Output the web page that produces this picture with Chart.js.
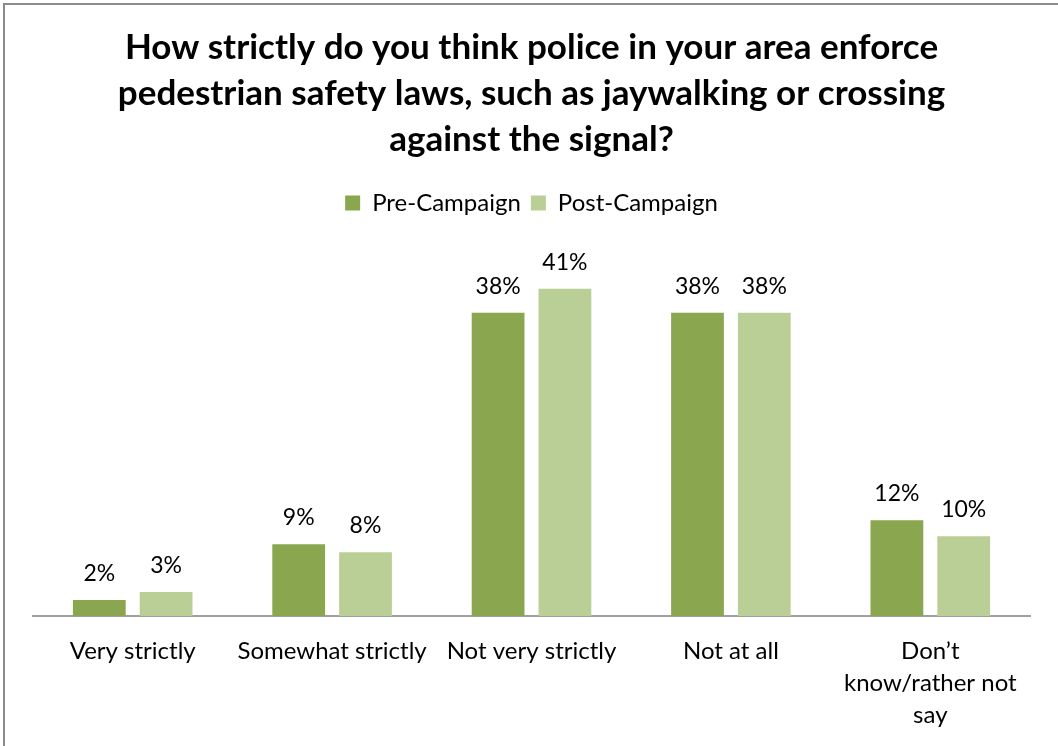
<!DOCTYPE html>
<html>
<head>
<meta charset="utf-8">
<script src="https://cdn.jsdelivr.net/npm/chart.js@4"></script>
<style>
  html, body { margin: 0; padding: 0; background: #fff; }
  #wrap { width: 1058px; height: 746px; }
</style>
</head>
<body>
<div id="wrap"><canvas id="myChart" width="1058" height="746"></canvas></div>
<script>
// survey answers and percentages
const categories = ['Very strictly', 'Somewhat strictly', 'Not very strictly', 'Not at all', ['Don\u2019t', 'know/rather not', 'say']];
const preCampaign = [2, 9, 38, 38, 12];
const postCampaign = [3, 8, 41, 38, 10];
const seriesNames = ['Pre-Campaign', 'Post-Campaign'];

const FONT = 'Lato, Calibri, Carlito, sans-serif';

// frame along the top and left edge
const framePlugin = {
    id: 'frame',
    afterDraw(chart) {
        const ctx = chart.ctx;
        ctx.save();
        ctx.strokeStyle = '#8c8c8c';
        ctx.lineWidth = 2;
        ctx.beginPath();
        ctx.moveTo(4, chart.height);
        ctx.lineTo(4, 4);
        ctx.lineTo(chart.width, 4);
        ctx.stroke();
        ctx.restore();
    }
};

// percentage label over each bar
const valueLabels = {
    id: 'valueLabels',
    afterDatasetsDraw(chart) {
        const ctx = chart.ctx;
        ctx.save();
        ctx.font = '23px ' + FONT;
        ctx.fillStyle = '#000';
        ctx.textAlign = 'center';
        ctx.textBaseline = 'alphabetic';
        chart.data.datasets.forEach((ds, i) => {
            chart.getDatasetMeta(i).data.forEach((bar, j) => {
                ctx.fillText(ds.data[j] + '%', bar.x, bar.y - 19);
            });
        });
        ctx.restore();
    }
};

const ctx = document.getElementById('myChart').getContext('2d');
const chart = new Chart(ctx, {
    type: 'bar',
    data: {
        labels: categories,
        datasets: [{
            label: seriesNames[0],
            data: preCampaign,
            backgroundColor: '#8aa64f',
            categoryPercentage: 0.67,
            barPercentage: 0.79
        }, {
            label: seriesNames[1],
            data: postCampaign,
            backgroundColor: '#bacf96',
            categoryPercentage: 0.67,
            barPercentage: 0.79
        }]
    },
    options: {
        responsive: false,
        animation: false,
        layout: {
            padding: { left: 33, right: 28, top: 0, bottom: -4 }
        },
        plugins: {
            title: {
                display: true,
                text: ['How strictly do you think police in your area enforce',
                       'pedestrian safety laws, such as jaywalking or crossing',
                       'against the signal?'],
                color: '#000',
                font: { family: FONT, size: 35, weight: 'bold', lineHeight: '46px' },
                padding: { top: 25, bottom: 18 }
            },
            legend: {
                display: true,
                labels: {
                    color: '#000',
                    font: { family: FONT, size: 24 },
                    boxWidth: 15,
                    boxHeight: 15,
                    padding: 10
                }
            },
            tooltip: { enabled: false }
        },
        scales: {
            x: {
                grid: { display: false, drawTicks: false },
                border: { display: true, color: '#a0a0a0', width: 2 },
                ticks: {
                    color: '#000',
                    font: { family: FONT, size: 24, lineHeight: '32px' },
                    padding: 19,
                    maxRotation: 0,
                    autoSkip: false
                }
            },
            y: {
                display: false,
                min: 0,
                max: 49
            }
        }
    },
    plugins: [valueLabels, framePlugin]
});
</script>
</body>
</html>
